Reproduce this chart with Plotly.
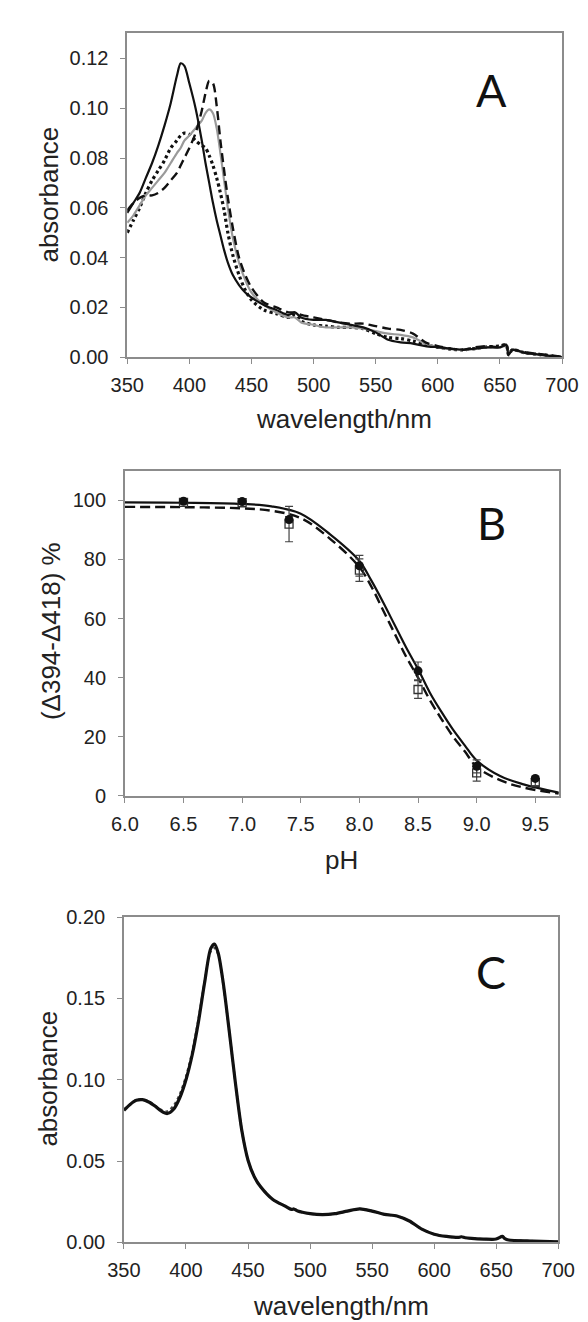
import plotly.graph_objects as go

# ---------------- Panel A data (absorbance spectra) ----------------
wl_A = [350, 355, 360, 365, 370, 375, 380, 385, 390, 393, 396, 400, 405, 410, 413, 416, 419, 422,
        425, 428, 431, 435, 440, 445, 450, 460, 470, 480, 485, 490, 500, 510, 520, 530, 540, 550,
        560, 570, 580, 590, 600, 610, 620, 630, 640, 650, 655, 657, 660, 670, 680, 690, 700]
abs_A_solid = [0.058, 0.062, 0.066, 0.072, 0.078, 0.085, 0.093, 0.102, 0.113, 0.118, 0.117, 0.110,
               0.100, 0.087, 0.078, 0.070, 0.062, 0.055, 0.049, 0.043, 0.038, 0.033, 0.029, 0.026,
               0.024, 0.021, 0.019, 0.017, 0.018, 0.016, 0.015, 0.015, 0.014, 0.013, 0.012, 0.010,
               0.007, 0.006, 0.0055, 0.0045, 0.004, 0.0035, 0.003, 0.0035, 0.004, 0.004, 0.005,
               0.001, 0.003, 0.0018, 0.0012, 0.0006, 0.0]
abs_A_dashed = [0.059, 0.062, 0.064, 0.065, 0.065, 0.066, 0.068, 0.071, 0.074, 0.077, 0.080, 0.084,
                0.090, 0.099, 0.106, 0.111, 0.110, 0.101, 0.087, 0.075, 0.064, 0.052, 0.040, 0.033,
                0.028, 0.022, 0.020, 0.018, 0.018, 0.017, 0.016, 0.015, 0.014, 0.0135, 0.0135,
                0.0125, 0.0115, 0.011, 0.0095, 0.006, 0.0045, 0.0035, 0.003, 0.004, 0.0045, 0.004,
                0.005, 0.002, 0.003, 0.002, 0.0014, 0.0008, 0.0002]
abs_A_gray = [0.054, 0.057, 0.061, 0.065, 0.068, 0.071, 0.074, 0.078, 0.082, 0.084, 0.087, 0.089,
              0.092, 0.095, 0.098, 0.0995, 0.098, 0.092, 0.082, 0.071, 0.060, 0.048, 0.038, 0.031,
              0.026, 0.021, 0.018, 0.016, 0.016, 0.014, 0.013, 0.012, 0.012, 0.012, 0.0115, 0.0105,
              0.0095, 0.009, 0.008, 0.0055, 0.004, 0.0033, 0.003, 0.0033, 0.004, 0.004, 0.0045,
              0.002, 0.003, 0.0018, 0.0012, 0.0006, 0.0]
abs_A_dotted = [0.050, 0.055, 0.060, 0.066, 0.071, 0.075, 0.079, 0.084, 0.087, 0.089, 0.090, 0.0895,
                0.087, 0.085, 0.084, 0.081, 0.077, 0.072, 0.066, 0.059, 0.050, 0.041, 0.033, 0.027,
                0.023, 0.019, 0.0175, 0.016, 0.017, 0.0145, 0.013, 0.0125, 0.012, 0.012, 0.0115,
                0.0095, 0.008, 0.0075, 0.0065, 0.005, 0.004, 0.0033, 0.003, 0.0035, 0.0042, 0.0045,
                0.005, 0.001, 0.003, 0.0018, 0.0012, 0.0006, 0.0]

# ---------------- Panel B data (pH titration) ----------------
pH_pts = [6.5, 7.0, 7.4, 8.0, 8.5, 9.0, 9.5]
pct_filled = [99.7, 99.6, 93.5, 77.9, 42.3, 10.0, 5.9]
err_filled = [0.5, 0.5, 1.0, 3.5, 3.0, 2.2, 0.5]
pct_open = [99.3, 99.2, 92.0, 76.4, 36.0, 7.8, 4.5]
err_open = [0.5, 0.5, 6.0, 3.8, 3.0, 2.8, 1.0]

pH_fit = [6.0, 6.5, 7.0, 7.25, 7.5, 7.75, 8.0, 8.1, 8.2, 8.3, 8.4, 8.5, 8.6, 8.7, 8.8, 8.9, 9.0,
          9.2, 9.4, 9.7]
fit_solid = [99.3, 99.2, 98.8, 98.0, 95.5, 88.5, 79.5, 73.0, 65.7, 57.9, 50.1, 42.9, 35.0, 28.4,
             22.3, 17.0, 12.0, 6.7, 3.9, 1.1]
fit_dashed = [97.8, 97.7, 97.3, 96.5, 94.0, 87.0, 77.4, 71.0, 63.0, 55.0, 47.0, 40.0, 32.5, 26.0,
              20.0, 15.0, 9.8, 5.3, 2.8, 0.8]

# ---------------- Panel C data (absorbance spectra) ----------------
wl_C = [350, 355, 360, 365, 370, 375, 380, 385, 390, 395, 400, 405, 410, 415, 420, 423, 426, 430,
        435, 440, 445, 450, 455, 460, 470, 480, 485, 487, 490, 500, 510, 520, 530, 540, 550, 560,
        570, 580, 590, 600, 610, 620, 622, 625, 630, 640, 650, 655, 657, 660, 680, 700]
abs_C_solid = [0.0812, 0.0848, 0.0873, 0.0877, 0.0863, 0.0838, 0.0808, 0.0792, 0.0818, 0.0889,
               0.100, 0.1152, 0.1354, 0.1596, 0.1808, 0.1834, 0.1778, 0.1596, 0.129, 0.097,
               0.0687, 0.0505, 0.0404, 0.0343, 0.0263, 0.0222, 0.0202, 0.0205, 0.0192, 0.0176,
               0.017, 0.0176, 0.0192, 0.0206, 0.0192, 0.0172, 0.0162, 0.0131, 0.0081, 0.005,
               0.0036, 0.003, 0.0034, 0.0028, 0.0024, 0.002, 0.002, 0.0036, 0.0022, 0.0014,
               0.0008, 0.0002]
abs_C_dotted = [0.0815, 0.0850, 0.0875, 0.0879, 0.0866, 0.0842, 0.0815, 0.0805, 0.0840, 0.0910,
                0.102, 0.117, 0.137, 0.160, 0.179, 0.181, 0.177, 0.159, 0.129, 0.097,
                0.0687, 0.0505, 0.0404, 0.0343, 0.0263, 0.0222, 0.0202, 0.0205, 0.0192, 0.0176,
                0.017, 0.0176, 0.0192, 0.0206, 0.0192, 0.0172, 0.0162, 0.0131, 0.0081, 0.005,
                0.0036, 0.003, 0.0034, 0.0028, 0.0024, 0.002, 0.002, 0.0036, 0.0022, 0.0014,
                0.0008, 0.0002]

W, H = 588, 1322


def fx(p):
    return p / W


def fy(p):
    return 1 - p / H


TICK_FONT = dict(family="Liberation Sans, Arial, sans-serif", size=20, color="#222222")
TITLE_FONT = dict(family="Liberation Sans, Arial, sans-serif", size=26, color="#222222")
LETTER_FONT = dict(family="Lato, 'Open Sans', sans-serif", size=45, color="#111111")

fig = go.Figure()

# Panel A traces
fig.add_trace(go.Scatter(x=wl_A, y=abs_A_dotted, mode="lines", xaxis="x", yaxis="y",
                         line=dict(color="#111111", width=3.2, dash="3px,3px",
                                   shape="spline", smoothing=0.8)))
fig.add_trace(go.Scatter(x=wl_A, y=abs_A_gray, mode="lines", xaxis="x", yaxis="y",
                         line=dict(color="#9a9a9a", width=2.2, shape="spline", smoothing=0.8)))
fig.add_trace(go.Scatter(x=wl_A, y=abs_A_dashed, mode="lines", xaxis="x", yaxis="y",
                         line=dict(color="#111111", width=2.4, dash="9px,5px",
                                   shape="spline", smoothing=0.8)))
fig.add_trace(go.Scatter(x=wl_A, y=abs_A_solid, mode="lines", xaxis="x", yaxis="y",
                         line=dict(color="#111111", width=2.2, shape="spline", smoothing=0.8)))

# Panel B traces
fig.add_trace(go.Scatter(x=pH_fit, y=fit_dashed, mode="lines", xaxis="x2", yaxis="y2",
                         line=dict(color="#111111", width=2.4, dash="10px,5px", shape="spline")))
fig.add_trace(go.Scatter(x=pH_fit, y=fit_solid, mode="lines", xaxis="x2", yaxis="y2",
                         line=dict(color="#111111", width=2.2, shape="spline")))
fig.add_trace(go.Scatter(x=pH_pts, y=pct_open, mode="markers", xaxis="x2", yaxis="y2",
                         marker=dict(symbol="square-open", size=8, color="#333333",
                                     line=dict(width=1.3)),
                         error_y=dict(type="data", array=err_open, color="#444444",
                                      thickness=1.2, width=4)))
fig.add_trace(go.Scatter(x=pH_pts, y=pct_filled, mode="markers", xaxis="x2", yaxis="y2",
                         marker=dict(symbol="circle", size=9, color="#111111"),
                         error_y=dict(type="data", array=err_filled, color="#444444",
                                      thickness=1.2, width=4)))

# Panel C traces
fig.add_trace(go.Scatter(x=wl_C, y=abs_C_dotted, mode="lines", xaxis="x3", yaxis="y3",
                         line=dict(color="#444444", width=2.2, dash="3px,3px",
                                   shape="spline", smoothing=0.8)))
fig.add_trace(go.Scatter(x=wl_C, y=abs_C_solid, mode="lines", xaxis="x3", yaxis="y3",
                         line=dict(color="#111111", width=3.2, shape="spline", smoothing=0.8)))

axis_common = dict(showline=True, linecolor="#8c8c8c", linewidth=1.5, mirror=True,
                   ticks="outside", ticklen=5, tickcolor="#8c8c8c", tickwidth=1.2,
                   showgrid=False, zeroline=False, tickfont=TICK_FONT)
x_common = dict(axis_common, ticklabelstandoff=4)
y_common = dict(axis_common, ticklabelstandoff=8)

fig.update_layout(
    width=W, height=H, margin=dict(l=0, r=0, t=0, b=0),
    paper_bgcolor="white", plot_bgcolor="white", showlegend=False,
    xaxis=dict(x_common, domain=[fx(108.5), fx(570)], range=[350, 700],
               tickvals=list(range(350, 701, 50)), anchor="y"),
    yaxis=dict(y_common, domain=[fy(344), fy(14.7)], range=[0, 0.13],
               tickvals=[0, 0.02, 0.04, 0.06, 0.08, 0.10, 0.12], tickformat=".2f", anchor="x"),
    xaxis2=dict(x_common, domain=[fx(106), fx(566.5)], range=[6.0, 9.7],
                tickvals=[6.0, 6.5, 7.0, 7.5, 8.0, 8.5, 9.0, 9.5], tickformat=".1f", anchor="y2"),
    yaxis2=dict(y_common, domain=[fy(790), fy(459.5)], range=[0, 110],
                tickvals=[0, 20, 40, 60, 80, 100], anchor="x2"),
    xaxis3=dict(x_common, domain=[fx(105), fx(566)], range=[350, 700],
                tickvals=list(range(350, 701, 50)), anchor="y3"),
    yaxis3=dict(y_common, domain=[fy(1244), fy(913.3)], range=[0, 0.20],
                tickvals=[0, 0.05, 0.10, 0.15, 0.20], tickformat=".2f", anchor="x3"),
)

annotations = [
    # axis titles
    dict(text="wavelength/nm", x=fx(339), y=fy(407), font=TITLE_FONT),
    dict(text="absorbance", x=fx(25), y=fy(179), font=TITLE_FONT, textangle=-90),
    dict(text="pH", x=fx(336), y=fy(855), font=TITLE_FONT),
    dict(text="(\u0394394-\u0394418) %", x=fx(27), y=fy(622), font=TITLE_FONT, textangle=-90),
    dict(text="wavelength/nm", x=fx(335), y=fy(1309), font=TITLE_FONT),
    dict(text="absorbance", x=fx(25), y=fy(1078), font=TITLE_FONT, textangle=-90),
    # panel letters
    dict(text="A", x=fx(495), y=fy(72), font=LETTER_FONT),
    dict(text="B", x=fx(495), y=fy(513), font=LETTER_FONT),
    dict(text="C", x=fx(495), y=fy(969), font=LETTER_FONT),
]
for a in annotations:
    a.update(xref="paper", yref="paper", showarrow=False, xanchor="center", yanchor="middle")
fig.update_layout(annotations=annotations)

fig.write_html("out.html")
